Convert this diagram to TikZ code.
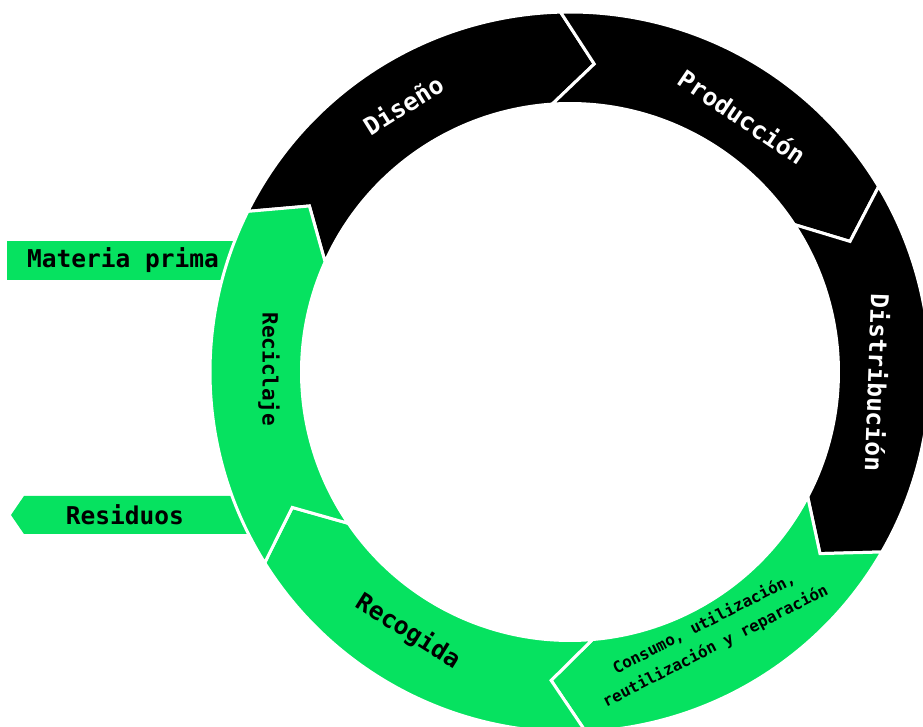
\documentclass[tikz,border=0pt]{standalone}
\usepackage{fontspec}
\setmonofont{DejaVu Sans Mono}
\definecolor{ecogreen}{RGB}{6,226,96}

\begin{document}
\begin{tikzpicture}[x=1pt,y=1pt,every node/.style={inner sep=0pt,font=\ttfamily\bfseries\fontsize{24.5}{29}\selectfont},
    ringlabel/.style={text=white},
    greenlabel/.style={text=black}]

    %marking border
    \useasboundingbox (-570,-355) rectangle (353,372);

    %side tags, the ring covers their right ends
    \fill[ecogreen] (-563,131) rectangle (-300,92);
    \fill[ecogreen] (-300,-124) -- (-546,-124) -- (-559,-143) -- (-546,-162) -- (-300,-162) -- cycle;
    \node (materia) at (-447,111.5) {Materia prima};
    \node (residuos) at (-445,-143) {Residuos};

    %ring segments, from start angle to end angle
    \def\Ro{360}
    \def\Ri{268.5}
    \def\Rm{309}
    \foreach \a/\c/\col in {153.5/91.5/black,91.5/31/black,31/-30/black,-30/-87.5/ecogreen,-87.5/-148/ecogreen,212/153.5/ecogreen} {
      \filldraw[fill=\col,draw=white,line width=3pt,line join=miter]
        (\a:\Ro) arc[start angle=\a,end angle=\c,radius=\Ro]
        -- ({\c-6}:\Rm) -- ({\c+2.3}:\Ri)
        arc[start angle={\c+2.3},end angle={\a+2.3},radius=\Ri]
        -- ({\a-6}:\Rm) -- cycle;
    }

    %labels on the ring
    \node[ringlabel,rotate=32] (diseno) at (122:315) {Diseño};
    \node[ringlabel,rotate=-34] (produccion) at (56:308) {Producción};
    \node[ringlabel,rotate=-92] (distribucion) at (-2:308) {Distribución};
    \node[greenlabel,rotate=27,align=center,font=\ttfamily\bfseries\fontsize{16}{25}\selectfont] (consumo) at (-62:298)
      {Consumo, utilización,\\reutilización y reparación};
    \node[greenlabel,rotate=-32] (recogida) at (-122:306) {Recogida};
    \node[greenlabel,rotate=-90,font=\ttfamily\bfseries\fontsize{21}{25}\selectfont] (reciclaje) at (179.5:301) {Reciclaje};

  \end{tikzpicture}
\end{document}
